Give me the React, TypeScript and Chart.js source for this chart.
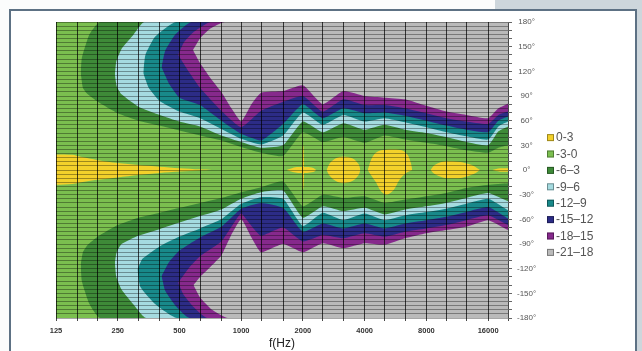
import React, { useEffect, useRef } from 'react';
import { Chart, registerables } from 'chart.js';

Chart.register(...registerables);

const FONT = '"Liberation Sans", Arial, Helvetica, sans-serif';

type P = [number, number];

// 1/3-octave band centres (vertical grid) and labelled frequencies
const BANDS = [125, 160, 200, 250, 315, 400, 500, 630, 800, 1000, 1250, 1600, 2000, 2500, 3150, 4000, 5000, 6300, 8000, 10000, 12500, 16000, 20000];
const FREQ_LABELS = [125, 250, 500, 1000, 2000, 4000, 8000, 16000];
const ANGLE_LABELS = [180, 150, 120, 90, 60, 30, 0, -30, -60, -90, -120, -150, -180];

const LEVEL_LABELS = ['0-3', '-3-0', '-6\u20133', '-9\u20136', '-12\u20139', '-15\u201312', '-18\u201315', '-21\u201318'];
const LEVEL_COLORS = ['#f3d12b', '#7bbf4f', '#3e8a38', '#a5dbe0', '#18898a', '#2c2c86', '#86298c', '#bababa'];

// ---- contour lines, upper half. inner = branch toward 0°, outer = branch toward +180°
const UP_3_IN: P[] = [[165, 118], [169, 100], [177, 93], [200, 83], [250, 69], [315, 60], [400, 54], [500, 48], [630, 42], [800, 36], [1000, 28], [1250, 21], [1600, 17], [2000, 46], [2500, 34], [3150, 40], [4000, 33], [5000, 42], [6300, 37], [8000, 33], [10000, 29], [12500, 24], [16000, 21], [17960, 27], [20000, 30]];
const UP_3_OUT: P[] = [[165, 118], [167, 136], [182, 165], [205, 180], [20000, 180]];
const UP_6_IN: P[] = [[242, 116], [247, 102], [261, 92], [315, 77], [400, 67], [500, 59], [630, 53], [800, 42], [1000, 34], [1250, 27], [1600, 30], [2000, 59], [2500, 46], [3150, 57], [4000, 49], [5000, 55], [6300, 49], [8000, 45], [10000, 40], [12500, 34], [16000, 30], [17960, 47], [20000, 53]];
const UP_6_OUT: P[] = [[242, 116], [246, 132], [262, 148], [297, 164], [337, 180], [20000, 180]];
const UP_9_IN: P[] = [[333, 118], [354, 100], [400, 84], [500, 71], [630, 63], [800, 50], [1000, 38], [1250, 31], [1600, 42], [2000, 70], [2500, 55], [3150, 67], [4000, 59], [5000, 63], [6300, 58], [8000, 52], [10000, 46], [12500, 41], [16000, 37], [17960, 53], [20000, 59]];
const UP_9_OUT: P[] = [[333, 118], [341, 140], [380, 162], [481, 180], [20000, 180]];
const UP_12_IN: P[] = [[409, 125], [445, 105], [500, 88], [630, 79], [800, 60], [1000, 44], [1250, 36], [1600, 56], [2000, 80], [2500, 63], [3150, 75], [4000, 69], [5000, 70], [6300, 66], [8000, 60], [10000, 54], [12500, 49], [16000, 46], [17960, 60], [20000, 65]];
const UP_12_OUT: P[] = [[409, 125], [426, 145], [478, 165], [572, 180], [20000, 180]];
const UP_15_IN: P[] = [[493, 140], [561, 118], [630, 100], [800, 72], [1000, 52], [1250, 72], [1600, 83], [2000, 90], [2500, 71], [3150, 86], [4000, 79], [5000, 79], [6300, 75], [8000, 69], [10000, 63], [12500, 59], [16000, 56], [17960, 67], [20000, 71]];
const UP_15_OUT: P[] = [[493, 140], [525, 155], [588, 168], [710, 180], [20000, 180]];
const UP_18_IN: P[] = [[582, 146], [630, 130], [707, 112], [800, 95], [891, 76], [1000, 59], [1122, 80], [1250, 94], [1600, 96], [2000, 103], [2500, 80], [3150, 96], [4000, 90], [5000, 88], [6300, 86], [8000, 78], [10000, 71], [12500, 67], [16000, 63], [17960, 75], [20000, 81]];
const UP_18_OUT: P[] = [[582, 146], [630, 160], [707, 172], [832, 180], [20000, 180]];

// ---- contour lines, lower half
const LO_3_IN: P[] = [[165, -115], [169, -100], [177, -92], [200, -81], [250, -67], [315, -58], [400, -52], [500, -46], [630, -40], [800, -34], [1000, -27], [1250, -21], [1600, -14], [2000, -44], [2500, -30], [3150, -34], [4000, -32], [5000, -40], [6300, -36], [8000, -32], [10000, -28], [12500, -22], [16000, -18], [20000, -16]];
const LO_3_OUT: P[] = [[165, -115], [167, -135], [182, -163], [205, -180], [20000, -180]];
const LO_6_IN: P[] = [[242, -113], [247, -100], [261, -90], [315, -80], [400, -72], [500, -64], [630, -56], [800, -48], [1000, -35], [1250, -27], [1600, -25], [2000, -58], [2500, -44], [3150, -50], [4000, -46], [5000, -54], [6300, -48], [8000, -44], [10000, -40], [12500, -34], [16000, -28], [20000, -38]];
const LO_6_OUT: P[] = [[242, -113], [246, -130], [262, -146], [297, -163], [344, -180], [20000, -180]];
const LO_9_IN: P[] = [[312, -121], [330, -108], [400, -93], [500, -81], [630, -71], [800, -60], [1000, -41], [1250, -33], [1600, -35], [2000, -68], [2500, -52], [3150, -61], [4000, -53], [5000, -61], [6300, -55], [8000, -51], [10000, -47], [12500, -41], [16000, -35], [20000, -49]];
const LO_9_OUT: P[] = [[312, -121], [322, -142], [380, -163], [486, -180], [20000, -180]];
const LO_12_IN: P[] = [[409, -129], [445, -112], [500, -98], [630, -82], [800, -69], [1000, -47], [1250, -40], [1600, -46], [2000, -75], [2500, -65], [3150, -71], [4000, -65], [5000, -71], [6300, -65], [8000, -61], [10000, -57], [12500, -51], [16000, -45], [20000, -59]];
const LO_12_OUT: P[] = [[409, -129], [426, -147], [478, -165], [561, -180], [20000, -180]];
const LO_15_IN: P[] = [[493, -137], [561, -118], [630, -105], [800, -87], [935, -62], [1000, -53], [1122, -68], [1250, -80], [1600, -70], [2000, -87], [2500, -79], [3150, -83], [4000, -77], [5000, -81], [6300, -75], [8000, -71], [10000, -67], [12500, -61], [16000, -55], [20000, -67]];
const LO_15_OUT: P[] = [[493, -137], [525, -152], [588, -167], [682, -180], [20000, -180]];
const LO_18_IN: P[] = [[585, -140], [630, -130], [707, -118], [800, -104], [891, -80], [1000, -60], [1122, -82], [1250, -100], [1600, -90], [2000, -100], [2500, -89], [3150, -95], [4000, -89], [5000, -91], [6300, -83], [8000, -77], [10000, -73], [12500, -69], [16000, -61], [20000, -73]];
const LO_18_OUT: P[] = [[585, -140], [630, -155], [721, -170], [862, -180], [20000, -180]];

// ---- 0..3 dB islands (upper edge, lower edge)
const WEDGE_UP: P[] = [[125, 19], [150, 18.5], [165, 16], [200, 12], [250, 8.5], [315, 6], [400, 4], [500, 2.2], [630, 0.8], [720, 0]];
const WEDGE_LO: P[] = [[125, -18], [150, -17], [175, -14], [200, -12], [250, -9], [315, -6], [400, -3.5], [500, -1.8], [630, -0.6], [720, 0]];
const LENS2K_UP: P[] = [[1663, 0], [1782, 2.5], [1895, 3.5], [2094, 3.5], [2245, 2.5], [2323, 0]];
const LENS2K_LO: P[] = [[1663, 0], [1782, -2.5], [1895, -3.5], [2094, -3.5], [2245, -2.5], [2323, 0]];
const SLIVER2K_UP: P[] = [[1973, 0], [1986, 26], [2000, 31], [2014, 26], [2028, 0]];
const SLIVER2K_LO: P[] = [[1973, 0], [1986, -20], [2000, -24], [2014, -20], [2028, 0]];
const ISLE3K_UP: P[] = [[2608, 0], [2700, 8], [2880, 14], [3150, 16.5], [3500, 14], [3740, 7], [3810, 0]];
const ISLE3K_LO: P[] = [[2608, 0], [2700, -7], [2880, -13], [3150, -16], [3500, -13], [3740, -6], [3810, 0]];
const ISLE5K_UP: P[] = [[4140, 0], [4290, 12], [4490, 20], [4810, 24], [5420, 25], [6070, 24], [6500, 18], [6730, 8], [6820, 0]];
const ISLE5K_LO: P[] = [[4140, 0], [4290, -6], [4540, -15], [4810, -26], [5150, -30], [5550, -24], [5920, -12], [6350, -4], [6820, 0]];
const ISLE10K_UP: P[] = [[8380, 0], [8780, 6], [9600, 10], [10800, 10.5], [12100, 9], [13600, 5], [14600, 0]];
const ISLE10K_LO: P[] = [[8380, 0], [8780, -5], [9600, -9], [10800, -10], [12100, -9], [13600, -5], [14600, 0]];
const SLIVER18K_UP: P[] = [[16760, 0], [18300, 2], [20000, 2]];
const SLIVER18K_LO: P[] = [[16760, 0], [18300, -2], [20000, -2]];

const CONTOUR_BANDS: { level: number; inner: P[]; outer: P[] }[] = [
  { level: 2, inner: UP_3_IN, outer: UP_3_OUT },
  { level: 2, inner: LO_3_IN, outer: LO_3_OUT },
  { level: 3, inner: UP_6_IN, outer: UP_6_OUT },
  { level: 3, inner: LO_6_IN, outer: LO_6_OUT },
  { level: 4, inner: UP_9_IN, outer: UP_9_OUT },
  { level: 4, inner: LO_9_IN, outer: LO_9_OUT },
  { level: 5, inner: UP_12_IN, outer: UP_12_OUT },
  { level: 5, inner: LO_12_IN, outer: LO_12_OUT },
  { level: 6, inner: UP_15_IN, outer: UP_15_OUT },
  { level: 6, inner: LO_15_IN, outer: LO_15_OUT },
  { level: 7, inner: UP_18_IN, outer: UP_18_OUT },
  { level: 7, inner: LO_18_IN, outer: LO_18_OUT },
];

const ISLANDS: [P[], P[]][] = [
  [WEDGE_UP, WEDGE_LO],
  [LENS2K_UP, LENS2K_LO],
  [SLIVER2K_UP, SLIVER2K_LO],
  [ISLE3K_UP, ISLE3K_LO],
  [ISLE5K_UP, ISLE5K_LO],
  [ISLE10K_UP, ISLE10K_LO],
  [SLIVER18K_UP, SLIVER18K_LO],
];

function buildDatasets() {
  const ds: any[] = [];
  const mk = (pts: P[], color: string, fill: any, tension: number) => ({
    data: pts.map(([x, y]) => ({ x, y })),
    backgroundColor: color,
    borderColor: 'rgba(0,0,0,0)',
    borderWidth: 0,
    pointRadius: 0,
    pointHoverRadius: 0,
    fill,
    tension,
  });
  // whole field: -3..0 dB
  ds.push(mk([[125, 180], [20000, 180]], LEVEL_COLORS[1], 'start', 0));
  for (const b of CONTOUR_BANDS) {
    const idx = ds.length;
    ds.push(mk(b.inner, LEVEL_COLORS[b.level], idx + 1, 0.15));
    ds.push(mk(b.outer, LEVEL_COLORS[b.level], false, 0.15));
  }
  for (const [up, lo] of ISLANDS) {
    const idx = ds.length;
    ds.push(mk(up, LEVEL_COLORS[0], idx + 1, 0.3));
    ds.push(mk(lo, LEVEL_COLORS[0], false, 0.3));
  }
  const n = ds.length;
  ds.forEach((d, i) => { d.order = n - i; });
  return ds;
}

const legendPlugin = {
  id: 'levelLegend',
  afterDraw(chart: any) {
    const ctx = chart.ctx as CanvasRenderingContext2D;
    const x0 = chart.chartArea.right + 39;
    ctx.save();
    ctx.font = `12px ${FONT}`;
    ctx.textBaseline = 'middle';
    ctx.textAlign = 'left';
    LEVEL_LABELS.forEach((label, i) => {
      const y = 137.6 + i * 16.4;
      ctx.fillStyle = LEVEL_COLORS[i];
      ctx.fillRect(x0, y - 3.5, 7, 7);
      ctx.strokeStyle = 'rgba(0,0,0,0.35)';
      ctx.lineWidth = 1;
      ctx.strokeRect(x0 + 0.5, y - 3, 6, 6);
      ctx.fillStyle = '#555';
      ctx.fillText(label, x0 + 9, y + 0.5);
    });
    ctx.restore();
  },
};

export default function App() {
  const ref = useRef<HTMLCanvasElement>(null);
  useEffect(() => {
    if (!ref.current) return;
    Chart.defaults.font.family = FONT;
    const chart = new Chart(ref.current, {
      type: 'line',
      data: { datasets: buildDatasets() },
      options: {
        responsive: false,
        maintainAspectRatio: false,
        animation: false,
        devicePixelRatio: 1,
        events: [],
        layout: { padding: { left: 56, top: 22, right: 0, bottom: 0 } },
        plugins: { legend: { display: false }, tooltip: { enabled: false } },
        scales: {
          x: {
            type: 'logarithmic',
            position: 'bottom',
            min: 125,
            max: 20000,
            afterBuildTicks: (s: any) => { s.ticks = BANDS.map((v) => ({ value: v })); },
            afterFit: (s: any) => { s.height = 33; },
            ticks: {
              autoSkip: false, maxRotation: 0, minRotation: 0, padding: 5, color: '#333',
              font: { size: 7.5, weight: 'bold', family: FONT },
              callback: (v: any) => (FREQ_LABELS.includes(Number(v)) ? String(v) : ''),
            },
            grid: { z: 1, color: 'rgba(0,0,0,0.72)', lineWidth: 1, tickLength: 3, tickColor: 'rgba(0,0,0,0.72)' },
            border: { display: false },
            title: { display: true, text: 'f(Hz)', color: '#222', font: { size: 12, family: FONT }, padding: { top: 0, bottom: 0 } },
          },
          y: {
            type: 'linear', position: 'right', min: -180, max: 180,
            afterFit: (s: any) => { s.width = 134; },
            ticks: {
              stepSize: 5, autoSkip: false, padding: 5, crossAlign: 'center', color: '#555',
              font: { size: 8, family: FONT },
              callback: (v: any) => (ANGLE_LABELS.includes(Number(v)) ? `${v}\u00b0` : ''),
            },
            grid: {
              z: 1, color: 'rgba(0,0,0,0.35)', lineWidth: 1, tickLength: 4,
              tickColor: (c: any) => (c.tick && c.tick.value % 10 === 0 ? '#666' : 'rgba(0,0,0,0)'),
            },
            border: { display: false },
          },
        },
      },
      plugins: [legendPlugin],
    } as any);
    return () => chart.destroy();
  }, []);

  return (
    <div style={{ position: 'fixed', left: 0, top: 0, width: 642, height: 351, overflow: 'hidden', background: '#fbfcfc' }}>
      <div style={{ position: 'absolute', left: 495, top: 0, width: 147, height: 351, background: '#cdd6dc' }} />
      <div style={{ position: 'absolute', left: 9, top: 9, width: 628, height: 400, boxSizing: 'border-box', border: '2px solid #5d7184', background: '#ffffff' }} />
      <canvas ref={ref} width={642} height={351} style={{ position: 'absolute', left: 0, top: 0, width: 642, height: 351 }} />
    </div>
  );
}
